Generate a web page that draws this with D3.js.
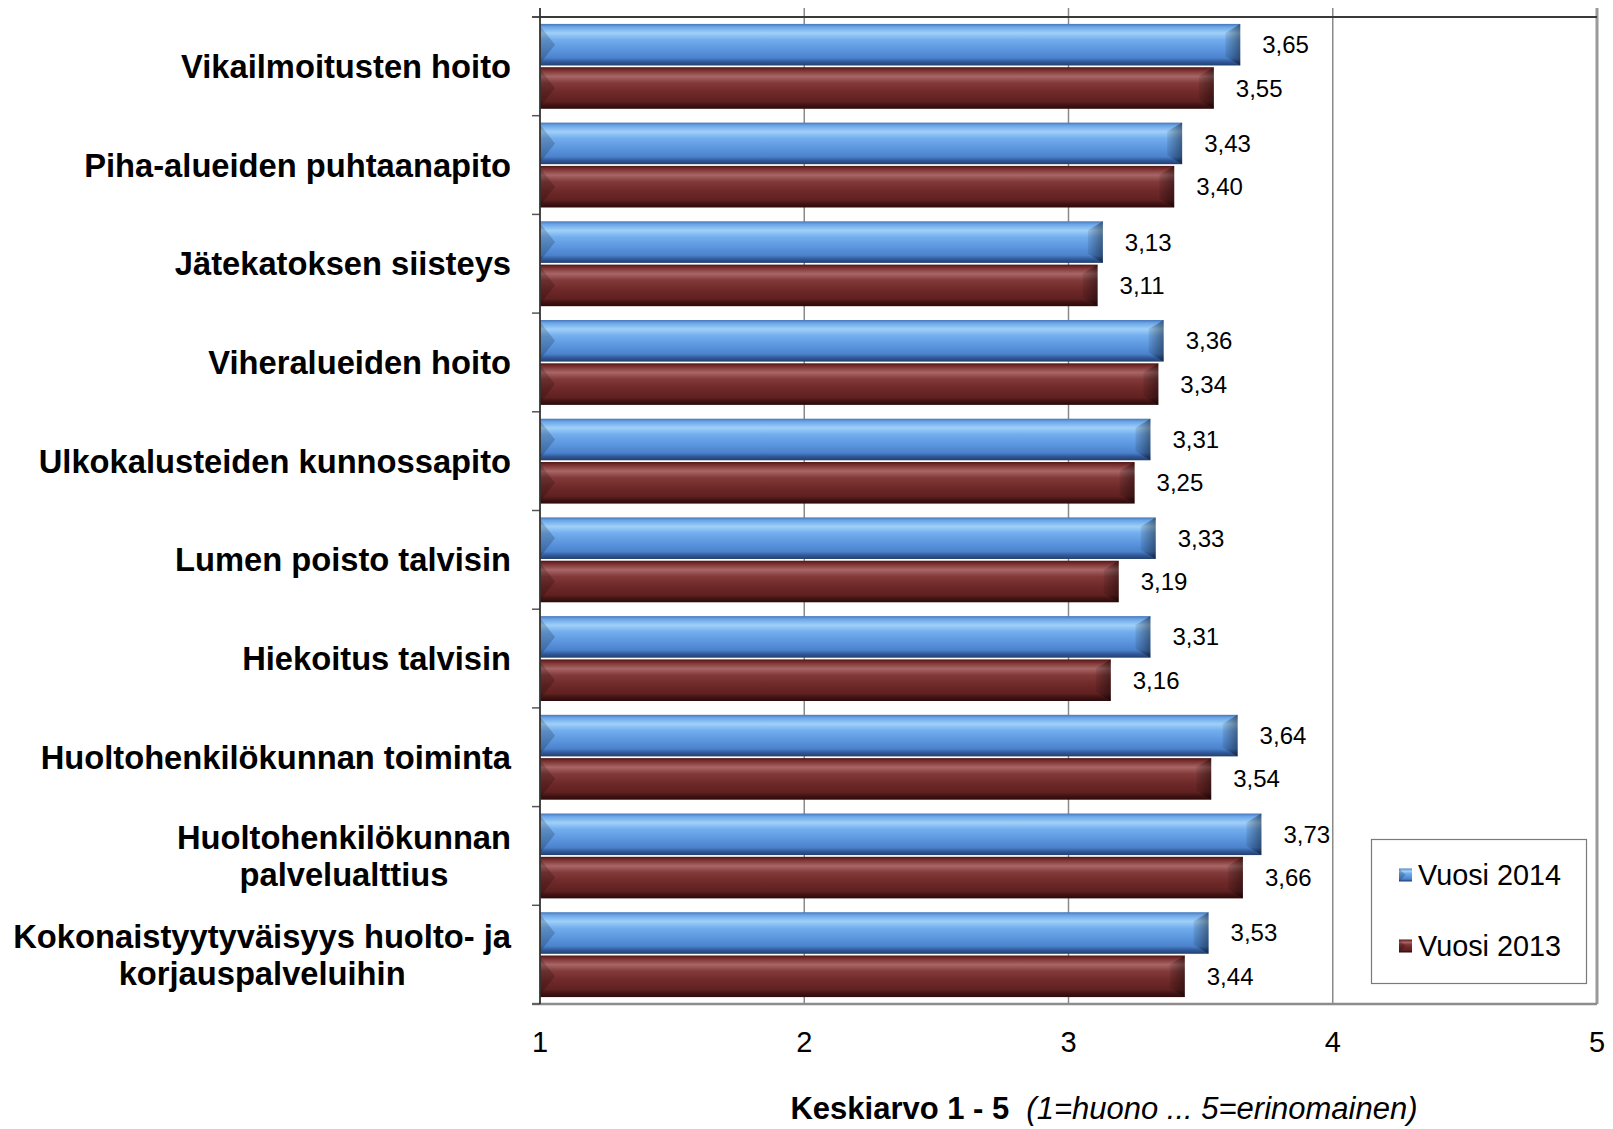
<!DOCTYPE html>
<html>
<head>
<meta charset="utf-8">
<script src="https://cdn.jsdelivr.net/npm/d3@7"></script>
<style>
  html, body { margin: 0; padding: 0; background: #ffffff; }
  svg { display: block; }
  text { font-family: "Liberation Sans", Arial, Helvetica, sans-serif; fill: #000; }
</style>
</head>
<body>
<svg id="chart" width="1613" height="1129"></svg>
<script>
const categories = [
  "Vikailmoitusten hoito",
  "Piha-alueiden puhtaanapito",
  "Jätekatoksen siisteys",
  "Viheralueiden hoito",
  "Ulkokalusteiden kunnossapito",
  "Lumen poisto talvisin",
  "Hiekoitus talvisin",
  "Huoltohenkilökunnan toiminta",
  "Huoltohenkilökunnan\npalvelualttius",
  "Kokonaistyytyväisyys huolto- ja\nkorjauspalveluihin"
];
const seriesNames = ["Vuosi 2014", "Vuosi 2013"];
const values2014 = [3.65, 3.43, 3.13, 3.36, 3.31, 3.33, 3.31, 3.64, 3.73, 3.53];
const values2013 = [3.55, 3.40, 3.11, 3.34, 3.25, 3.19, 3.16, 3.54, 3.66, 3.44];
const xTickValues = [1, 2, 3, 4, 5];
const axisTitleBold = "Keskiarvo 1 - 5";
const axisTitleItalic = "(1=huono ... 5=erinomainen)";

const svg = d3.select("#chart");
const plotLeft = 540, plotRight = 1597, plotTop = 17, plotBottom = 1004;

const x = d3.scaleLinear().domain([1, 5]).range([plotLeft, plotRight]);
const y = d3.scaleBand().domain(categories).range([plotTop, plotBottom])
  .paddingInner(0.14).paddingOuter(0.07);
const ySeries = d3.scaleBand().domain(seriesNames).range([0, y.bandwidth()]).paddingInner(0.04);
const bandStep = y.step();

const fmt = d3.formatLocale({decimal: ",", thousands: " ", grouping: [3], currency: ["", "€"]}).format(".2f");

// gradients
const defs = svg.append("defs");
const gradSpecs = {
  "Vuosi 2014": [["0%","#4677b8"],["7%","#6aa5e8"],["22%","#9fd0f8"],["38%","#72adee"],["62%","#5b96de"],["82%","#4b82cb"],["91%","#31599a"],["100%","#233f6c"]],
  "Vuosi 2013": [["0%","#4e1616"],["7%","#7a2f2f"],["22%","#a86666"],["38%","#823939"],["62%","#6e2828"],["82%","#602121"],["91%","#421313"],["100%","#2c0a0a"]]
};
const gradId = {"Vuosi 2014": "gBlue", "Vuosi 2013": "gRed"};
Object.keys(gradSpecs).forEach(k => {
  const g = defs.append("linearGradient").attr("id", gradId[k])
    .attr("x1", 0).attr("y1", 0).attr("x2", 0).attr("y2", 1);
  gradSpecs[k].forEach(s => g.append("stop").attr("offset", s[0]).attr("stop-color", s[1]));
});
const endGrad = defs.append("linearGradient").attr("id", "gEnd")
  .attr("x1", 0).attr("y1", 0).attr("x2", 1).attr("y2", 0);
endGrad.append("stop").attr("offset", "0%").attr("stop-color", "#000").attr("stop-opacity", 0.08);
endGrad.append("stop").attr("offset", "100%").attr("stop-color", "#000").attr("stop-opacity", 0.42);

// gridlines (vertical), extend above top as ticks
svg.append("g").selectAll("line").data(xTickValues.filter(v => v > 1 && v < 5)).join("line")
  .attr("x1", d => x(d)).attr("x2", d => x(d))
  .attr("y1", plotTop - 9).attr("y2", plotBottom)
  .attr("stroke", "#8a8a8a").attr("stroke-width", 1.5);

// right border
svg.append("line").attr("x1", x(5)).attr("x2", x(5)).attr("y1", plotTop - 9).attr("y2", plotBottom)
  .attr("stroke", "#9a9a9a").attr("stroke-width", 3);

// bottom axis line
svg.append("line").attr("x1", plotLeft - 8).attr("x2", plotRight).attr("y1", plotBottom).attr("y2", plotBottom)
  .attr("stroke", "#8c8c8c").attr("stroke-width", 2.5);

// top line
svg.append("line").attr("x1", plotLeft - 8).attr("x2", plotRight).attr("y1", plotTop).attr("y2", plotTop)
  .attr("stroke", "#3a3a3a").attr("stroke-width", 2);

// category tick marks on left
const boundaries = d3.range(categories.length + 1).map(i => plotTop + i * bandStep);
svg.append("g").selectAll("line").data(boundaries).join("line")
  .attr("x1", plotLeft - 8).attr("x2", plotLeft)
  .attr("y1", d => d).attr("y2", d => d)
  .attr("stroke", "#555").attr("stroke-width", 1.5);

// bars
const series = [
  {name: "Vuosi 2014", values: values2014},
  {name: "Vuosi 2013", values: values2013}
];
const barG = svg.append("g");
series.forEach(s => {
  const g = barG.append("g");
  categories.forEach((c, i) => {
    const v = s.values[i];
    const x0 = x(1), x1 = x(v);
    const y0 = y(c) + ySeries(s.name), h = ySeries.bandwidth(), y1 = y0 + h;
    const b = 15, vIn = 9;
    g.append("rect").attr("x", x0).attr("y", y0).attr("width", x1 - x0).attr("height", h)
      .attr("fill", `url(#${gradId[s.name]})`);
    g.append("path")
      .attr("d", `M${x1},${y0} L${x1},${y1} L${x1 - b},${y1 - vIn} L${x1 - b},${y0 + vIn} Z`)
      .attr("fill", "url(#gEnd)");
    g.append("path")
      .attr("d", `M${x0},${y0 + 2} L${x0 + b},${y0 + h / 2} L${x0},${y1 - 2} Z`)
      .attr("fill", "#000").attr("fill-opacity", 0.18);
    svg.append("text")
      .attr("x", x1 + 22).attr("y", y0 + h / 2)
      .attr("dominant-baseline", "central")
      .style("font-size", "24px")
      .text(fmt(v));
  });
});

// left axis line
svg.append("line").attr("x1", plotLeft).attr("x2", plotLeft).attr("y1", plotTop - 9).attr("y2", plotBottom)
  .attr("stroke", "#333").attr("stroke-width", 1.8);

// category labels (right-aligned block, lines centered within block)
const labelRight = 511;
const lineH = 37;
categories.forEach(c => {
  const lines = c.split("\n");
  const cy = y(c) + y.bandwidth() / 2;
  const g = svg.append("g");
  const texts = lines.map((ln, j) => g.append("text")
    .attr("y", cy + (j - (lines.length - 1) / 2) * lineH)
    .attr("dominant-baseline", "central")
    .attr("text-anchor", "middle")
    .style("font-size", "32.7px").style("font-weight", "bold")
    .text(ln));
  const w = d3.max(texts, t => t.node().getComputedTextLength());
  texts.forEach(t => t.attr("x", labelRight - w / 2));
});

// x tick labels
svg.append("g").selectAll("text").data(xTickValues).join("text")
  .attr("x", d => x(d)).attr("y", 1052)
  .attr("text-anchor", "middle")
  .style("font-size", "29px")
  .text(d => d);

// axis title
const title = svg.append("text").attr("x", 1104).attr("y", 1119)
  .attr("text-anchor", "middle").style("font-size", "31px");
title.append("tspan").style("font-weight", "bold").text(axisTitleBold);
title.append("tspan").attr("dx", 17).style("font-style", "italic").text(axisTitleItalic);

// legend
const lg = svg.append("g");
lg.append("rect").attr("x", 1371.5).attr("y", 839.5).attr("width", 215).attr("height", 144)
  .attr("fill", "#fff").attr("stroke", "#7a7a7a").attr("stroke-width", 1.2);
const legendY = d3.scalePoint().domain(seriesNames).range([875, 946]);
seriesNames.forEach(n => {
  const cy = legendY(n);
  lg.append("rect").attr("x", 1399).attr("y", cy - 6.5).attr("width", 13).attr("height", 13)
    .attr("fill", `url(#${gradId[n]})`);
  lg.append("path").attr("d", `M1399,${cy - 6.5} L1405.5,${cy} L1399,${cy + 6.5} Z`)
    .attr("fill", "#000").attr("fill-opacity", 0.2);
  lg.append("text").attr("x", 1418).attr("y", cy)
    .attr("dominant-baseline", "central")
    .style("font-size", "28.8px").text(n);
});
</script>
</body>
</html>
